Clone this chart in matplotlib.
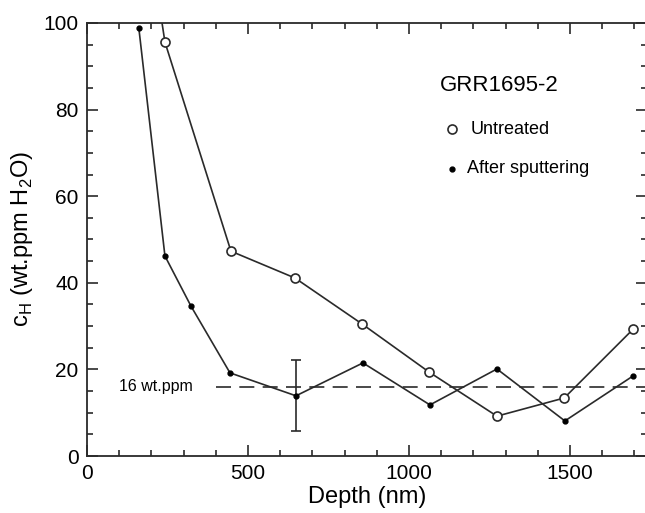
import matplotlib.pyplot as plt
import numpy as np
from matplotlib.ticker import MultipleLocator

plt.rcParams['font.family'] = ['Liberation Sans', 'DejaVu Sans']

# Untreated (open circles); first point lies above the plotted range
depth_untreated = [37, 242, 447, 646, 854, 1062, 1273, 1482, 1696]
ch_untreated = [196, 95.6, 47.3, 41.1, 30.5, 19.4, 9.2, 13.4, 29.3]

# After sputtering (filled dots)
depth_sputter = [161, 242, 323, 444, 649, 857, 1065, 1273, 1484, 1696]
ch_sputter = [98.8, 46.2, 34.6, 19.2, 13.9, 21.5, 11.8, 20.1, 8.1, 18.5]

# error bar on one point
err_x = 649
err_y = 13.9
err_size = 8.2

level = 16
level_start = 400

fig = plt.figure(figsize=(6.45, 5.13), dpi=100)
# right spine sits just past the image edge (cropped figure)
ax = fig.add_axes([87/645, 57/513, 560/645, 433/513])

lc = '#2a2a2a'
ax.plot(depth_untreated, ch_untreated, '-', color=lc, lw=1.2, marker='o',
        ms=6.5, mfc='white', mec=lc, mew=1.2, zorder=3)
ax.plot(depth_sputter, ch_sputter, '-', color=lc, lw=1.2, marker='o',
        ms=3.5, mfc='black', mec='black', zorder=3)
ax.errorbar([err_x], [err_y], yerr=[err_size], fmt='none', ecolor=lc,
            elinewidth=1.2, capsize=3.6, capthick=1.2, zorder=2)

ax.plot([level_start, 1740], [level, level], '--', color=lc, lw=1.2,
        dashes=(9, 5), zorder=1)
ax.text(98, level, '16 wt.ppm', fontsize=11.5, va='center', ha='left')

ax.set_xlim(0, 1739)
ax.set_ylim(0, 100)
ax.xaxis.set_major_locator(MultipleLocator(500))
ax.xaxis.set_minor_locator(MultipleLocator(100))
ax.yaxis.set_major_locator(MultipleLocator(20))
ax.yaxis.set_minor_locator(MultipleLocator(5))
ax.tick_params(which='both', direction='in', top=True, right=True,
               color=lc, width=1.2)
ax.tick_params(which='major', length=8, labelsize=15, pad=6)
ax.tick_params(which='minor', length=4)
for s in ax.spines.values():
    s.set_linewidth(1.3)
    s.set_color(lc)

ax.set_xlabel('Depth (nm)', fontsize=17, labelpad=2)
ax.set_ylabel('c$_\\mathregular{H}$ (wt.ppm H$_\\mathregular{2}$O)', fontsize=17, labelpad=6)

# in-plot legend
ax.text(1095, 85.5, 'GRR1695-2', fontsize=16, ha='left', va='center')
ax.plot([1135], [75.5], 'o', ms=6.5, mfc='white', mec=lc, mew=1.2)
ax.text(1190, 75.5, 'Untreated', fontsize=13, ha='left', va='center')
ax.plot([1135], [66.3], 'o', ms=3.5, mfc='black', mec='black')
ax.text(1180, 66.3, 'After sputtering', fontsize=13, ha='left', va='center')

fig.savefig('out.png', dpi=100)
